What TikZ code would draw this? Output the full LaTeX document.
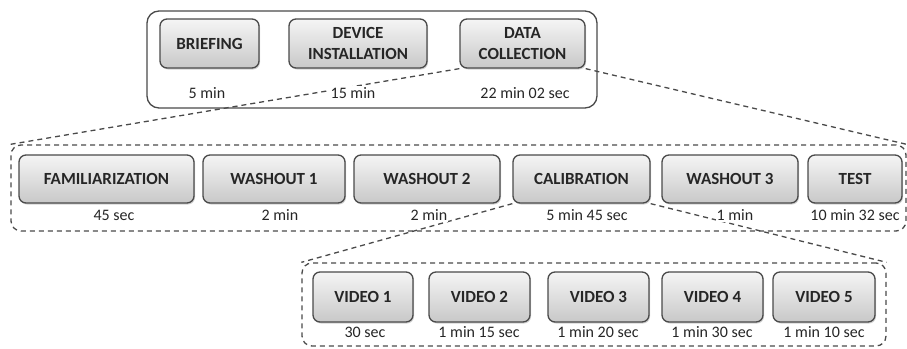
\documentclass[tikz,border=0pt]{standalone}
\usepackage{fontspec}
\setmainfont{Carlito}
\usetikzlibrary{shadows}

\definecolor{boxline}{HTML}{4A4A4A}
\definecolor{boxtop}{HTML}{F5F5F5}
\definecolor{boxbot}{HTML}{C8C8C8}
\definecolor{ink}{HTML}{262626}

\tikzset{
  phase/.style={draw=boxline, line width=1.3pt, rounded corners=7pt,
    top color=boxtop, bottom color=boxbot, minimum height=49pt,
    text=ink, align=center, font=\bfseries\fontsize{17}{21}\selectfont,
    drop shadow={opacity=.35, shadow xshift=1pt, shadow yshift=-1.5pt}},
  dur/.style={fill=white, inner sep=1pt, text=ink,
    font=\fontsize{16}{18}\selectfont},
  session/.style={draw=boxline, line width=1.3pt, rounded corners=12pt, inner sep=0pt},
  group/.style={session, rounded corners=10pt, dash pattern=on 5pt off 4pt},
  zoomline/.style={draw=boxline, line width=1.3pt, dash pattern=on 5pt off 4pt}
}

\begin{document}
\begin{tikzpicture}[x=1pt, y=-1pt]
\useasboundingbox (0,0) rectangle (907,348);

% the three levels
\node[session, minimum width=450pt, minimum height=97pt] (sess) at (372,59.5) {};
\node[group, minimum width=895pt, minimum height=86pt] (steps) at (458.5,188) {};
\node[group, minimum width=584pt, minimum height=83pt] (vids) at (594,304.5) {};

% top row
\node[phase, minimum width=99pt] (brief) at (209.5,43.5) {BRIEFING};
\node[phase, minimum width=138pt] (inst) at (358,43.5) {DEVICE\\INSTALLATION};
\node[phase, minimum width=125pt] (coll) at (522.5,43.5) {DATA\\COLLECTION};

% data collection steps
\node[phase, minimum width=175pt, minimum height=48pt] (fam) at (106.5,179) {FAMILIARIZATION};
\node[phase, minimum width=142pt, minimum height=48pt] (wash1) at (274,179) {WASHOUT 1};
\node[phase, minimum width=146pt, minimum height=48pt] (wash2) at (427,179) {WASHOUT 2};
\node[phase, minimum width=137pt, minimum height=48pt] (calib) at (581.5,179) {CALIBRATION};
\node[phase, minimum width=136pt, minimum height=48pt] (wash3) at (730,179) {WASHOUT 3};
\node[phase, minimum width=94pt, minimum height=48pt] (test) at (855,179) {TEST};

% calibration videos
\node[phase, minimum width=100pt, minimum height=50pt] (vid1) at (363,297) {VIDEO 1};
\node[phase, minimum width=101pt, minimum height=50pt] (vid2) at (479.5,297) {VIDEO 2};
\node[phase, minimum width=101pt, minimum height=50pt] (vid3) at (598.5,297) {VIDEO 3};
\node[phase, minimum width=101pt, minimum height=50pt] (vid4) at (712.5,297) {VIDEO 4};
\node[phase, minimum width=102pt, minimum height=50pt] (vid5) at (824,297) {VIDEO 5};

% zoom lines
\draw[zoomline] (coll.south west) -- (steps.north west);
\draw[zoomline] (coll.south east) -- (steps.north east);
\draw[zoomline] (calib.south west) -- (vids.north west);
\draw[zoomline] (calib.south east) -- (vids.north east);

% durations
\node[dur] (brief-t) at (207,93) {5 min};
\node[dur] (inst-t) at (353,93) {15 min};
\node[dur] (coll-t) at (525,93) {22 min 02 sec};

\node[dur] (fam-t) at (114,215) {45 sec};
\node[dur] (wash1-t) at (280,215) {2 min};
\node[dur] (wash2-t) at (429,215) {2 min};
\node[dur] (calib-t) at (587,215) {5 min 45 sec};
\node[dur] (wash3-t) at (735,215) {1 min};
\node[dur] (test-t) at (855,215) {10 min 32 sec};

\node[dur] (vid1-t) at (365,332) {30 sec};
\node[dur] (vid2-t) at (479,332) {1 min 15 sec};
\node[dur] (vid3-t) at (598,332) {1 min 20 sec};
\node[dur] (vid4-t) at (712,332) {1 min 30 sec};
\node[dur] (vid5-t) at (824,332) {1 min 10 sec};

\end{tikzpicture}
\end{document}
